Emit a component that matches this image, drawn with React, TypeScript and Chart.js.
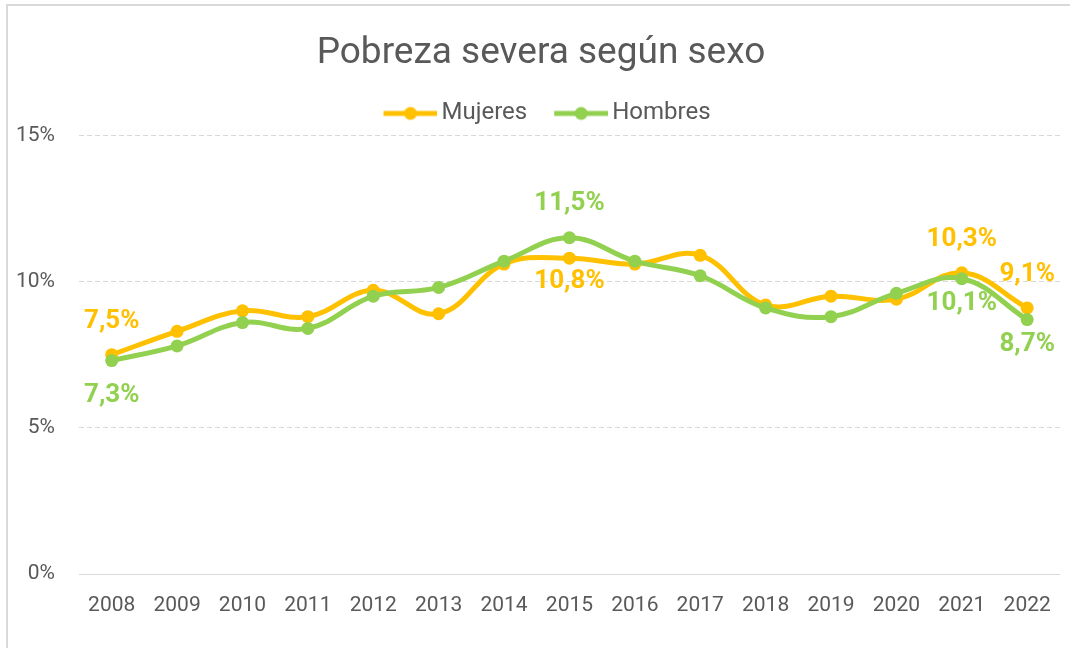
import React, { useEffect, useRef } from 'react';
import { Chart, registerables } from 'chart.js';

Chart.register(...registerables);

// ---- Data ----
const years = ['2008', '2009', '2010', '2011', '2012', '2013', '2014', '2015', '2016', '2017', '2018', '2019', '2020', '2021', '2022'];
const mujeres = [7.5, 8.3, 9.0, 8.8, 9.7, 8.9, 10.6, 10.8, 10.6, 10.9, 9.2, 9.5, 9.4, 10.3, 9.1];
const hombres = [7.3, 7.8, 8.6, 8.4, 9.5, 9.8, 10.7, 11.5, 10.7, 10.2, 9.1, 8.8, 9.6, 10.1, 8.7];
const seriesNames = ['Mujeres', 'Hombres'];
const yTicks = [0, 5, 10, 15];
const chartTitle = 'Pobreza severa según sexo';

// which points carry a value label, and on which side
const mujeresLabelIdx = [0, 7, 13, 14];
const mujeresLabelPos = ['above', 'below', 'above', 'above'];
const hombresLabelIdx = [0, 7, 13, 14];
const hombresLabelPos = ['below', 'above', 'below', 'below'];

// ---- Style ----
const ORANGE = '#FFC000';
const GREEN = '#92D050';
const TEXT = '#595959';
const GRID = '#D9D9D9';
const FONT = 'Roboto';

const fmt = (v: number) => v.toFixed(1).replace('.', ',') + '%';

function makeLegendMarker(color: string, w: number): HTMLCanvasElement {
  const c = document.createElement('canvas');
  c.width = w;
  c.height = 16;
  const g = c.getContext('2d')!;
  g.strokeStyle = color;
  g.lineWidth = 5;
  g.beginPath();
  g.moveTo(w - 54, 8);
  g.lineTo(w, 8);
  g.stroke();
  g.fillStyle = color;
  g.beginPath();
  g.arc(w - 27, 8, 6.5, 0, Math.PI * 2);
  g.fill();
  return c;
}

const valueLabelsPlugin = {
  id: 'valueLabels',
  afterDatasetsDraw(chart: any, _args: any, opts: any) {
    const ctx = chart.ctx;
    ctx.save();
    ctx.font = `bold 26px ${FONT}`;
    ctx.textAlign = 'center';
    ctx.textBaseline = 'middle';
    (opts.items || []).forEach((it: any) => {
      const meta = chart.getDatasetMeta(it.dataset);
      const el = meta.data[it.index];
      if (!el) return;
      const ds = chart.data.datasets[it.dataset];
      const v = ds.data[it.index] as number;
      ctx.fillStyle = ds.borderColor;
      const dy = it.pos === 'above' ? -it.dist : it.dist;
      ctx.fillText(fmt(v), el.x, el.y + dy);
    });
    ctx.restore();
  },
};

export default function App() {
  const ref = useRef<HTMLCanvasElement>(null);

  useEffect(() => {
    document.body.style.margin = '0';
    document.body.style.overflow = 'hidden';
    if (!ref.current) return;

    const pw = 58;
    const markers = [makeLegendMarker(ORANGE, pw + 16), makeLegendMarker(GREEN, pw + 16)];

    const labelItems = [
      ...mujeresLabelIdx.map((index, k) => ({
        dataset: 0, index, pos: mujeresLabelPos[k],
        dist: mujeresLabelPos[k] === 'above' ? 33 : 23,
      })),
      ...hombresLabelIdx.map((index, k) => ({
        dataset: 1, index, pos: hombresLabelPos[k],
        dist: hombresLabelPos[k] === 'above' ? 34 : (index === 0 ? 35 : 25),
      })),
    ];

    const chart = new Chart(ref.current, {
      type: 'line',
      data: {
        labels: years,
        datasets: [
          {
            label: seriesNames[0],
            data: mujeres,
            borderColor: ORANGE,
            backgroundColor: ORANGE,
            pointBackgroundColor: ORANGE,
            pointBorderWidth: 0,
            pointRadius: 6.5,
            borderWidth: 5,
            tension: 0.4,
            order: 1,
          },
          {
            label: seriesNames[1],
            data: hombres,
            borderColor: GREEN,
            backgroundColor: GREEN,
            pointBackgroundColor: GREEN,
            pointBorderWidth: 0,
            pointRadius: 6.5,
            borderWidth: 5,
            tension: 0.4,
            order: 0,
          },
        ],
      },
      options: {
        responsive: false,
        animation: false,
        layout: { padding: { left: 14, right: 2, top: 0, bottom: 31 } },
        font: { family: FONT },
        scales: {
          x: {
            type: 'category',
            offset: true,
            grid: { display: false, drawTicks: false },
            border: { display: true, color: GRID, width: 1 },
            ticks: {
              color: TEXT,
              font: { family: FONT, size: 21 },
              padding: 19,
              maxRotation: 0,
              autoSkip: false,
            },
            afterFit: (s: any) => { s.height = 43; },
          },
          y: {
            min: yTicks[0],
            max: yTicks[yTicks.length - 1],
            afterBuildTicks: (s: any) => { s.ticks = yTicks.map((v) => ({ value: v })); },
            grid: { color: GRID, lineWidth: 1, drawTicks: false },
            border: { display: false, dash: [5, 3] },
            ticks: {
              color: TEXT,
              font: { family: FONT, size: 21 },
              padding: 24,
              callback: (v: any) => `${v}%`,
            },
            afterFit: (s: any) => { s.width = 65; },
          },
        },
        plugins: {
          title: {
            display: true,
            text: chartTitle,
            color: TEXT,
            font: { family: FONT, size: 37, weight: 'normal' },
            padding: { top: 32, bottom: 10 },
          },
          legend: {
            display: true,
            position: 'top',
            labels: {
              usePointStyle: true,
              pointStyleWidth: pw,
              padding: 15,
              color: TEXT,
              font: { family: FONT, size: 24 },
              sort: (a: any, b: any) => a.datasetIndex - b.datasetIndex,
              generateLabels: (chart: any) => {
                const items = Chart.defaults.plugins.legend.labels.generateLabels(chart);
                return items.map((it: any) => ({ ...it, pointStyle: markers[it.datasetIndex] }));
              },
            },
          },
          tooltip: { enabled: false },
          valueLabels: { items: labelItems },
        } as any,
      },
      plugins: [valueLabelsPlugin],
    } as any);

    return () => chart.destroy();
  }, []);

  return (
    <div style={{ position: 'relative', width: 1070, height: 648, background: '#fff', overflow: 'hidden' }}>
      <canvas ref={ref} width={1070} height={648} style={{ position: 'absolute', left: 0, top: 0 }} />
      <div
        style={{
          position: 'absolute', left: 6, top: 4, width: 1200, height: 800,
          borderLeft: `2px solid ${GRID}`, borderTop: `2px solid ${GRID}`, pointerEvents: 'none',
        }}
      />
    </div>
  );
}
